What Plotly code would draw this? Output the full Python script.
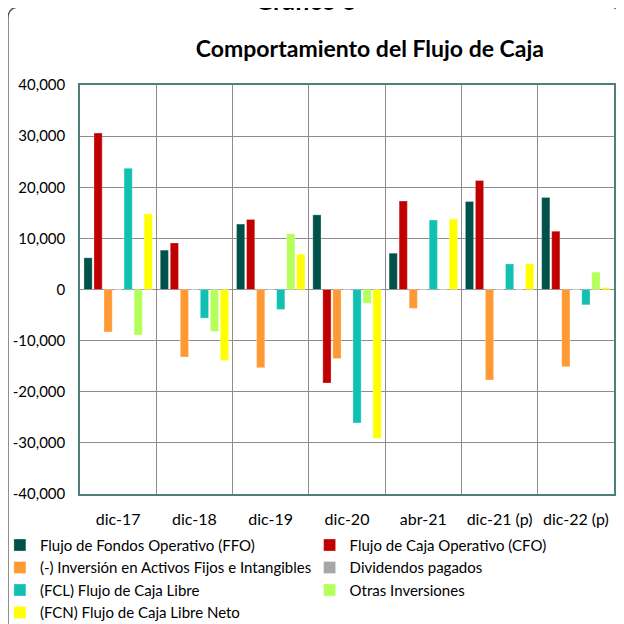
import plotly.graph_objects as go

categories = ['dic-17', 'dic-18', 'dic-19', 'dic-20', 'abr-21', 'dic-21 (p)', 'dic-22 (p)']

ffo = [6200, 7700, 12800, 14600, 7100, 17200, 18000]
cfo = [30600, 9100, 13700, -18300, 17300, 21300, 11400]
inversion = [-8300, -13200, -15300, -13500, -3700, -17700, -15100]
dividendos = [0, 0, 0, 0, 0, 0, 0]
fcl = [23700, -5600, -3900, -26100, 13600, 5000, -3000]
otras = [-8900, -8200, 10900, -2700, 0, 0, 3400]
fcn = [14800, -13900, 6900, -29100, 13800, 5000, 400]

series_names = [
    'Flujo de Fondos Operativo (FFO)',
    'Flujo de Caja Operativo (CFO)',
    '(-) Inversión en Activos Fijos e Intangibles',
    'Dividendos pagados',
    '(FCL) Flujo de Caja Libre',
    'Otras Inversiones',
    '(FCN) Flujo de Caja Libre Neto',
]

y_ticks = [-40000, -30000, -20000, -10000, 0, 10000, 20000, 30000, 40000]
y_ticktext = ['-40,000', '-30,000', '-20,000', '-10,000', '0',
              '10,000', '20,000', '30,000', '40,000']

COLORS = ['#00514A', '#C00000', '#FF9933', '#A6A6A6', '#10C0B0', '#B5FF5A', '#FFFF00']
FONT = 'Lato, Open Sans, sans-serif'

fig = go.Figure()
all_vals = [ffo, cfo, inversion, dividendos, fcl, otras, fcn]
for i, (name, vals, color) in enumerate(zip(series_names, all_vals, COLORS)):
    # two legend columns: even entries left, odd entries right
    fig.add_trace(go.Bar(
        name=name, x=categories, y=vals,
        legend='legend' if i % 2 == 0 else 'legend2',
        marker=dict(color=color, line=dict(color='rgba(255,255,255,0.6)', width=0.5)),
    ))

# outer rounded frame (open at the bottom, runs off the page)
fig.add_shape(type='path', xref='paper', yref='paper', layer='below',
              path='M -0.112,1.191 L 0.991,1.191 Q 1.013,1.191 1.013,1.162 '
                   'L 1.013,-0.34 L -0.135,-0.34 L -0.135,1.162 Q -0.135,1.191 -0.112,1.191 Z',
              line=dict(color='#555555', width=1.5), fillcolor='rgba(0,0,0,0)')

# chart number, mostly cut off by the top edge as in the source
fig.add_annotation(text='<b>Gráfico 6</b>', xref='paper', yref='paper',
                   x=0.423, y=1.166, xanchor='center', yanchor='bottom', showarrow=False,
                   font=dict(family=FONT, size=25, color='#000000'))

legend_style = dict(orientation='v', yanchor='top', xanchor='left', traceorder='normal',
                    font=dict(family=FONT, size=15, color='#000000'),
                    itemwidth=30, tracegroupgap=0, bgcolor='rgba(0,0,0,0)')

fig.update_layout(
    width=624, height=624,
    paper_bgcolor='white', plot_bgcolor='white',
    font=dict(family=FONT, color='#000000', size=15),
    margin=dict(l=72, r=18, t=77, b=138, autoexpand=False),
    title=dict(text='<b>Comportamiento del Flujo de Caja</b>', x=0.58, xanchor='center',
               y=0.935, yanchor='middle', font=dict(family=FONT, size=23, color='#000000')),
    barmode='group', bargap=0.08, bargroupgap=0.18,
    showlegend=True,
    legend=dict(x=-0.15, y=-0.085, **legend_style),
    legend2=dict(x=0.43, y=-0.085, **legend_style),
    xaxis=dict(type='category', tickson='boundaries', showgrid=True, tickangle=0,
               gridcolor='#8C8C8C', gridwidth=1.2, ticks='', ticklabelstandoff=10,
               showline=True, linecolor='#4F7F7B', linewidth=1.5, mirror=True,
               tickfont=dict(family=FONT, size=16, color='#000000')),
    yaxis=dict(range=[-40000, 40000], tickvals=y_ticks, ticktext=y_ticktext,
               showgrid=True, gridcolor='#8C8C8C', gridwidth=1.2, ticklabelstandoff=10,
               zeroline=True, zerolinecolor='#8C8C8C', zerolinewidth=1.2,
               showline=True, linecolor='#4F7F7B', linewidth=1.5, mirror=True,
               ticks='', tickfont=dict(family=FONT, size=15, color='#000000')),
)

fig.write_html('out.html')
